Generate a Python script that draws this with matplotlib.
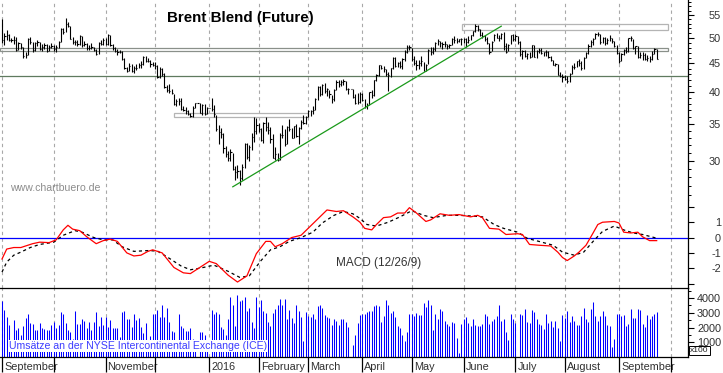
import matplotlib
matplotlib.use("Agg")
import matplotlib.pyplot as plt
import matplotlib.transforms as mtransforms
from matplotlib.patches import Rectangle
import numpy as np
import pandas as pd

plt.rcParams['font.family'] = ['Liberation Sans', 'DejaVu Sans']

# ---- daily Brent bars, Sep 1 2015 .. Sep 23 2016 (business days) ----
close = [
    # Sep 2015
    49.56, 50.50, 50.68, 49.61, 49.61, 49.52, 47.58, 48.89, 48.14, 46.37, 46.63, 49.75, 49.08, 47.47, 48.92, 49.08, 47.75, 48.23, 48.60, 47.34, 48.23, 48.37,
    # Oct 2015
    47.69, 48.13, 49.25, 51.92, 51.33, 53.05, 52.65, 49.86, 49.24, 49.15, 48.71, 50.46, 48.61, 48.71, 47.85, 47.99, 48.07, 47.46, 46.81, 49.05, 48.80, 49.56,
    # Nov 2015
    48.79, 50.54, 48.58, 47.98, 47.42, 47.19, 47.19, 45.81, 44.06, 43.61, 44.56, 43.57, 44.14, 44.18, 44.66, 44.83, 46.12, 45.46, 45.46, 44.86, 44.61,
    # Dec 2015
    44.44, 42.49, 43.84, 43.00, 40.73, 40.26, 40.11, 39.73, 37.93, 38.39, 38.45, 37.19, 37.06, 36.88, 36.35, 36.11, 37.36, 38.10, 38.10, 36.62, 37.79, 36.46, 37.28,
    # Jan 2016
    37.28, 37.22, 36.42, 34.23, 33.75, 33.55, 31.55, 30.86, 30.31, 31.03, 28.94, 28.55, 28.76, 27.88, 29.25, 32.18, 30.50, 31.80, 33.10, 33.89, 34.74,
    # Feb 2016
    34.24, 32.72, 35.04, 34.46, 34.06, 32.88, 30.32, 30.84, 30.06, 33.36, 33.39, 32.18, 34.50, 34.28, 33.01, 34.69, 33.27, 34.41, 35.29, 35.10, 35.97,
    # Mar 2016
    36.81, 36.93, 37.07, 38.72, 40.84, 39.65, 41.07, 40.05, 40.39, 39.53, 38.74, 40.33, 41.54, 41.20, 41.54, 41.79, 40.47, 40.44, 40.44, 39.14, 38.14, 38.32, 39.60,
    # Apr 2016
    38.67, 37.69, 37.87, 39.84, 39.43, 41.94, 42.83, 44.69, 44.18, 43.84, 43.10, 42.91, 44.03, 45.92, 44.53, 45.11, 44.48, 45.74, 47.18, 48.14, 48.13,
    # May 2016
    45.83, 44.97, 44.62, 45.01, 45.37, 43.63, 44.66, 47.59, 47.08, 47.83, 48.97, 49.28, 48.93, 48.81, 48.72, 48.35, 48.61, 49.74, 49.59, 49.32, 49.76, 49.69,
    # Jun 2016
    49.72, 49.17, 49.64, 50.55, 51.44, 52.51, 51.95, 50.54, 50.35, 49.83, 48.97, 47.19, 49.17, 50.65, 49.96, 49.88, 50.91, 48.41, 47.16, 48.58, 50.61, 49.68,
    # Jul 2016
    50.35, 49.10, 46.80, 47.43, 46.40, 46.76, 46.25, 48.47, 46.26, 47.37, 47.61, 46.96, 47.13, 47.17, 46.20, 45.69, 44.72, 44.87, 42.92, 42.70, 42.46,
    # Aug 2016
    42.14, 41.80, 43.10, 44.29, 44.27, 45.39, 44.98, 44.05, 46.04, 46.97, 48.35, 49.23, 49.85, 50.89, 50.88, 49.16, 49.96, 49.05, 49.67, 49.92, 49.26, 48.37, 47.04,
    # Sep 2016
    45.45, 46.83, 47.63, 47.26, 49.98, 49.99, 48.01, 48.32, 46.10, 46.59, 46.59, 45.77, 45.95, 45.88, 46.83, 47.65, 45.89,
]
high = [
    54.0, 51.0, 51.6, 50.9, 50.0, 50.4, 50.2, 49.2, 49.0, 48.2, 47.1, 49.9, 50.2, 49.2, 49.1, 49.5, 49.2, 48.8, 48.9, 48.8, 48.6, 48.9,
    48.6, 48.5, 49.4, 52.2, 52.2, 54.3, 53.5, 52.5, 50.2, 49.6, 49.6, 50.6, 50.5, 49.3, 48.9, 48.6, 49.0, 48.2, 47.7, 49.2, 49.6, 50.0,
    49.9, 50.9, 50.6, 48.8, 48.2, 47.8, 47.6, 47.4, 45.9, 44.3, 45.1, 44.8, 44.5, 44.8, 45.0, 45.4, 46.4, 46.4, 45.9, 45.7, 45.3,
    45.3, 44.6, 44.3, 44.2, 43.2, 41.1, 41.3, 40.4, 39.6, 38.7, 38.9, 39.0, 37.7, 37.5, 37.1, 36.6, 37.6, 38.2, 38.1, 38.1, 37.9, 37.9, 37.5,
    37.28, 39.0, 37.8, 36.3, 34.8, 34.4, 33.6, 31.9, 31.2, 31.5, 31.0, 29.3, 29.5, 28.9, 29.6, 32.3, 32.3, 32.0, 33.6, 36.0, 35.8,
    35.1, 34.3, 35.2, 36.0, 35.2, 34.5, 33.5, 31.7, 30.9, 33.6, 34.8, 34.2, 34.7, 35.6, 34.4, 34.7, 34.9, 34.5, 35.5, 36.2, 36.1,
    37.1, 37.1, 37.7, 38.9, 41.0, 41.0, 41.2, 41.4, 40.6, 40.2, 39.5, 40.5, 42.0, 42.0, 41.9, 42.2, 41.8, 40.6, 40.44, 40.5, 39.6, 39.7, 39.9,
    39.7, 38.8, 38.2, 40.0, 40.3, 42.0, 43.0, 44.7, 44.7, 44.5, 44.0, 43.3, 44.2, 46.1, 46.1, 45.3, 45.4, 45.9, 47.6, 48.5, 48.5,
    48.0, 46.3, 45.6, 45.6, 46.4, 45.3, 44.9, 47.8, 48.1, 48.1, 49.1, 49.8, 49.3, 49.1, 49.3, 48.8, 48.8, 50.0, 50.5, 49.9, 49.8, 49.9,
    50.0, 49.9, 50.5, 50.7, 51.5, 52.9, 52.7, 51.9, 51.3, 50.6, 50.1, 49.0, 49.4, 50.9, 51.0, 50.6, 51.0, 51.2, 48.9, 48.7, 50.6, 50.8,
    50.8, 50.5, 49.3, 47.5, 47.5, 46.9, 47.2, 48.6, 48.6, 47.5, 48.0, 47.9, 47.2, 47.6, 47.3, 46.3, 45.7, 45.1, 44.9, 43.4, 43.0,
    42.9, 42.6, 43.2, 44.7, 45.1, 45.5, 45.8, 45.5, 46.1, 47.2, 48.7, 49.6, 50.0, 51.0, 51.2, 50.8, 50.2, 50.1, 50.0, 50.7, 49.9, 49.4, 48.6,
    47.2, 47.0, 47.8, 48.2, 50.0, 50.4, 49.8, 48.4, 48.4, 47.2, 47.1, 46.9, 46.6, 46.3, 47.3, 48.0, 47.8,
]
low = [
    48.9, 48.5, 49.6, 49.3, 49.2, 48.8, 47.3, 47.5, 47.8, 46.0, 46.0, 46.5, 48.7, 47.2, 47.3, 48.4, 47.6, 47.4, 47.8, 47.1, 47.3, 47.9,
    47.4, 47.1, 47.9, 49.1, 50.8, 51.3, 52.3, 49.7, 48.8, 48.5, 48.3, 48.5, 48.2, 48.3, 47.6, 47.5, 47.7, 47.3, 46.6, 46.8, 48.6, 48.5,
    48.6, 48.6, 48.3, 47.6, 47.1, 46.6, 46.9, 45.6, 43.9, 43.3, 43.5, 43.3, 43.2, 43.8, 44.2, 44.2, 44.7, 45.2, 45.2, 44.3, 44.4,
    44.0, 42.3, 42.3, 42.7, 40.6, 39.9, 39.8, 39.6, 37.8, 37.6, 37.8, 37.0, 36.9, 36.4, 36.2, 35.9, 36.0, 37.3, 38.1, 36.5, 36.3, 36.3, 36.4,
    37.28, 36.9, 36.0, 34.0, 32.2, 33.0, 31.0, 30.4, 29.9, 29.9, 28.8, 27.7, 27.9, 27.1, 27.7, 29.1, 30.2, 29.9, 31.3, 32.4, 33.5,
    33.8, 32.6, 32.3, 34.0, 33.5, 32.3, 30.3, 30.1, 30.0, 30.1, 32.9, 31.9, 32.1, 34.0, 32.9, 33.0, 33.1, 32.1, 34.2, 34.9, 34.9,
    35.9, 36.1, 36.4, 37.1, 38.6, 39.2, 39.4, 39.8, 39.2, 38.9, 38.2, 38.5, 40.2, 40.7, 40.9, 41.1, 40.2, 39.6, 40.44, 39.0, 37.9, 37.9, 38.2,
    38.5, 37.3, 37.2, 37.8, 39.0, 39.2, 41.8, 42.6, 43.9, 43.4, 42.7, 40.1, 42.5, 43.9, 44.3, 44.3, 44.2, 44.0, 45.5, 46.9, 47.5,
    45.4, 44.6, 43.8, 44.0, 44.5, 43.5, 43.5, 44.8, 46.6, 46.7, 47.4, 48.6, 48.2, 47.8, 48.2, 47.8, 47.9, 48.6, 49.0, 48.9, 49.2, 48.6,
    48.9, 48.2, 49.0, 49.5, 50.5, 51.3, 51.5, 50.4, 49.9, 49.4, 48.7, 46.8, 47.4, 49.4, 49.9, 49.4, 49.7, 47.5, 47.0, 47.4, 48.7, 49.3,
    49.4, 48.8, 46.3, 45.8, 46.2, 45.8, 45.9, 46.2, 46.1, 46.0, 47.0, 46.7, 46.4, 46.3, 46.0, 45.5, 44.6, 44.4, 42.8, 42.5, 41.7,
    41.9, 41.5, 41.6, 43.1, 43.9, 44.3, 44.5, 43.8, 44.0, 46.0, 46.7, 48.2, 48.6, 49.7, 50.3, 48.8, 49.0, 48.5, 48.8, 49.4, 49.0, 48.1, 46.8,
    45.1, 45.4, 46.5, 46.9, 47.2, 49.3, 47.7, 46.8, 46.0, 45.9, 45.7, 45.6, 45.4, 45.2, 45.6, 46.8, 45.8,
]
# volume in units of 100 contracts
volume = [
    3800, 3200, 2700, 2150, 600, 2500, 1800, 2000, 1500, 2100, 2650, 2900, 2300, 2250, 1800, 1850, 2300, 2000, 1900, 1850, 1850, 2150,
    2350, 2000, 2150, 3050, 2950, 2300, 1850, 1700, 1200, 3100, 2250, 2250, 2550, 2450, 2000, 2400, 1850, 2400, 3050, 2100, 2700, 2150,
    2700, 2050, 2500, 1950, 2000, 1950, 1350, 3050, 3100, 2600, 2600, 2050, 2900, 2500, 2650, 2050, 1650, 2300, 900, 1400, 2900,
    2900, 3200, 2700, 3500, 2700, 3350, 2400, 1750, 1700, 1000, 2900, 2100, 1950, 1750, 1750, 1950, 1200, 600, 0, 1700, 1700, 1500, 900,
    0, 3200, 2900, 3050, 2950, 2050, 1900, 1500, 2600, 4050, 3500, 2100, 4200, 3800, 3850, 4050, 3150, 3350, 2400, 1950, 4050,
    3400, 3850, 3100, 3000, 2400, 2100, 3000, 3250, 3500, 3950, 3500, 3950, 2600, 3200, 2650, 2300, 3500, 3100, 2700, 1100, 3050,
    2800, 2700, 2950, 2600, 3450, 3550, 3300, 2850, 2700, 2650, 2200, 2600, 2450, 2200, 2550, 2600, 2350, 2050, 0, 800, 1500, 2300, 2850,
    2900, 2900, 3050, 3100, 3100, 3450, 3550, 3450, 2350, 2750, 3850, 3550, 3000, 3100, 2700, 2100, 2000, 1500, 1100, 1700, 2900,
    2950, 2750, 3000, 2850, 2850, 3650, 3400, 3850, 3550, 1850, 2950, 2550, 3250, 3100, 2450, 2250, 2100, 2400, 2300, 1300, 300, 2250,
    2550, 2700, 2300, 2100, 2600, 2150, 2100, 2100, 2250, 2900, 2800, 2250, 2450, 2550, 2750, 3500, 2450, 2600, 1700, 1150, 2900, 2550,
    2300, 0, 2900, 2850, 3250, 2400, 2300, 3200, 3050, 2600, 2250, 2150, 1900, 2900, 2300, 2450, 2050, 2450, 2000, 1100, 2850,
    2650, 3150, 2350, 2800, 2450, 2200, 2150, 2750, 3350, 2600, 2350, 3250, 3750, 2750, 2450, 2800, 3150, 2800, 2150, 2100, 650, 1250, 2950,
    2950, 2800, 2850, 2100, 2250, 3250, 2650, 2650, 3250, 3200, 2250, 2050, 2850, 2550, 2800, 2950, 3050,
]

# MACD (12/26/9): bar index -> value
macd_x = [0, 2, 5, 8, 11, 13, 16, 20, 23, 26, 28, 30, 33, 36, 40, 43, 46, 49, 53, 56, 59, 62, 64, 68, 73, 77, 80, 84, 88, 91,
          96, 100, 104, 108, 112, 114, 116, 119, 123, 127, 131, 134, 138, 142, 145, 149, 152, 154, 157, 159, 162, 165, 168,
          171, 173, 176, 180, 182, 186, 190, 194, 199, 202, 204, 207, 211, 214, 219, 221, 224, 228, 233, 236, 238, 240, 243,
          245, 248, 251, 253, 255, 260, 262, 264, 267, 270, 272, 275, 278]
macd_y = [-1.4, -0.75, -0.65, -0.65, -0.5, -0.4, -0.3, -0.33, -0.15, 0.5, 0.8, 0.55, 0.45, 0.05, -0.4, -0.2, -0.1, -0.25,
          -1.0, -1.2, -1.15, -0.9, -0.8, -1.0, -1.95, -2.3, -2.35, -1.95, -1.55, -1.7, -2.45, -2.9, -2.5, -1.05, -0.25, -0.25,
          -0.6, -0.4, 0.0, 0.15, 0.75, 1.2, 1.8, 1.7, 1.75, 1.35, 1.0, 0.6, 0.5, 0.85, 1.3, 1.35, 1.6, 1.6, 1.95, 1.6, 1.05,
          1.15, 1.55, 1.45, 1.5, 1.35, 1.45, 1.3, 0.6, 0.55, 0.2, 0.25, 0.2, -0.45, -0.5, -0.55, -0.95, -1.3, -1.5, -1.2,
          -0.95, -0.5, 0.3, 0.85, 1.0, 1.05, 0.95, 0.35, 0.3, 0.35, 0.05, -0.2, -0.2]
signal_x = [0, 2, 5, 8, 12, 16, 22, 26, 31, 34, 39, 43, 47, 51, 56, 62, 66, 70, 76, 80, 84, 90, 96, 101, 105, 110, 114, 118,
            122, 127, 132, 136, 141, 145, 149, 152, 155, 159, 164, 169, 174, 179, 183, 189, 194, 200, 204, 209, 213, 219, 223,
            228, 234, 238, 243, 247, 251, 255, 260, 264, 268, 272, 277, 278]
signal_y = [-2.25, -1.6, -1.15, -0.95, -0.65, -0.45, -0.3, 0.15, 0.45, 0.35, 0.0, -0.15, -0.15, -0.6, -0.9, -0.85, -0.88,
            -1.25, -1.85, -2.1, -2.0, -1.8, -2.2, -2.6, -2.5, -1.5, -0.8, -0.6, -0.25, 0.0, 0.35, 0.95, 1.45, 1.7, 1.55, 1.25,
            0.85, 0.75, 1.0, 1.35, 1.75, 1.45, 1.3, 1.45, 1.45, 1.4, 1.35, 0.85, 0.6, 0.35, -0.05, -0.25, -0.5, -0.95, -1.15,
            -0.95, -0.25, 0.4, 0.75, 0.5, 0.3, 0.2, 0.0, -0.05]

# chartist's drawings (bar index / price)
trend_x, trend_y = [98, 212], [26.9, 52.5]
support_level = 42.7
zone_mid = (-1, 282.8, 47.25, 47.9)
zone_top = (195.3, 282.8, 51.75, 53.0)
zone_low = (73, 130, 36.0, 36.5)

month_labels = ['September', '', 'November', '', '2016', 'February', 'March', 'April',
                'May', 'June', 'July', 'August', 'September', '']
price_ticks = [30, 35, 40, 45, 50, 55]
macd_ticks = [-3, -2, -1, 0, 1, 2]
macd_tick_labels = ['', '-2', '-1', '0', '1', '']
vol_ticks = [1000, 2000, 3000, 4000]
vol_minor = [500, 1500, 2500, 3500, 4500]

# ---------------------------------------------------------------------------
n = len(close)
x = np.arange(n)
all_days = pd.bdate_range('2015-09-01', '2016-10-31')
pos = pd.Series(np.arange(len(all_days)), index=all_days)
month_pos = pos.groupby([all_days.year, all_days.month]).first().values

W, H = 723, 373
fig = plt.figure(figsize=(W / 100, H / 100), dpi=100)


def rect(top, bottom):
    return [0, 1 - bottom / H, 688 / W, (bottom - top) / H]


ax_p = fig.add_axes(rect(0, 200))
ax_m = fig.add_axes(rect(200, 288), sharex=ax_p)
ax_v = fig.add_axes(rect(288, 357), sharex=ax_p)

txt_col = '#303030'
grid_col = '#a8a8a8'
for ax in (ax_p, ax_m, ax_v):
    ax.set_facecolor('white')
    for s in ('left', 'top', 'bottom'):
        ax.spines[s].set_visible(False)
    ax.spines['right'].set_linewidth(0.9)
    ax.yaxis.tick_right()
    for mp in month_pos:
        ax.axvline(mp, color=grid_col, lw=0.8, ls=(0, (3, 3)), zorder=0)
    ax.tick_params(axis='y', which='major', length=4, width=0.8, pad=19.8,
                   labelsize=7.8, labelcolor=txt_col)
    ax.tick_params(axis='y', which='minor', length=2.2, width=0.7)
    ax.tick_params(axis='x', which='both', bottom=False, labelbottom=False)

ax_p.set_xlim(-0.85, 291.3)

# price panel
ax_p.set_yscale('log')
ax_p.set_ylim(25.46, 58.55)
ax_p.yaxis.set_major_locator(matplotlib.ticker.FixedLocator(price_ticks))
ax_p.yaxis.set_major_formatter(matplotlib.ticker.FixedFormatter([str(t) for t in price_ticks]))
ax_p.yaxis.set_minor_locator(matplotlib.ticker.FixedLocator([v for v in range(26, 59) if v % 5]))
ax_p.yaxis.set_minor_formatter(matplotlib.ticker.NullFormatter())

ax_p.add_patch(Rectangle((zone_mid[0], zone_mid[2]), zone_mid[1] - zone_mid[0], zone_mid[3] - zone_mid[2],
                         fill=False, ec='#8a908a', lw=0.9, zorder=1))
ax_p.add_patch(Rectangle((zone_top[0], zone_top[2]), zone_top[1] - zone_top[0], zone_top[3] - zone_top[2],
                         fill=False, ec='#b4b4b4', lw=0.9, zorder=1))
ax_p.add_patch(Rectangle((zone_low[0], zone_low[2]), zone_low[1] - zone_low[0], zone_low[3] - zone_low[2],
                         fill=False, ec='#b4b4b4', lw=0.9, zorder=1))
ax_p.axhline(support_level, color='#5f7a5f', lw=0.9, zorder=1)

ax_p.vlines(x, low, high, color='black', lw=0.8, zorder=3)
ax_p.hlines(close, x, x + 0.5, color='black', lw=0.8, zorder=3)
ax_p.plot(trend_x, trend_y, color='#1a9a1a', lw=0.9, zorder=4)

# MACD panel
ax_m.set_ylim(-3.29, 2.45)
ax_m.axhline(0, color='#0000ff', lw=0.9, zorder=1)
ax_m.plot(signal_x, signal_y, color='black', lw=0.9, ls=(0, (2.5, 2.5)), zorder=2)
ax_m.plot(macd_x, macd_y, color='#ff0000', lw=0.9, zorder=3)
ax_m.set_yticks(macd_ticks)
ax_m.set_yticklabels(macd_tick_labels)

# volume panel
ax_v.spines['top'].set_visible(True)
ax_v.spines['bottom'].set_visible(True)
ax_v.spines['top'].set_linewidth(0.9)
ax_v.spines['bottom'].set_linewidth(0.9)
ax_v.set_ylim(0, 4680)
ax_v.vlines(x, 0, volume, color='#0000ff', lw=0.75, zorder=2)
ax_v.set_yticks(vol_ticks)
ax_v.set_yticklabels([str(v) for v in vol_ticks])
ax_v.set_yticks(vol_minor, minor=True)
ax_v.set_xticks(month_pos)
ax_v.set_xticklabels(month_labels)
ax_v.tick_params(axis='x', which='major', bottom=True, labelbottom=True, direction='out',
                 length=10.8, width=0.9, pad=-7.0, labelsize=7.8, labelcolor=txt_col)

for ax in (ax_p, ax_m, ax_v):
    for lbl in ax.get_yticklabels():
        lbl.set_horizontalalignment('right')
shift = mtransforms.ScaledTranslation(2 / 100, 0, fig.dpi_scale_trans)
for lbl in ax_v.get_xticklabels():
    lbl.set_horizontalalignment('left')
    lbl.set_transform(lbl.get_transform() + shift)

# texts
fig.text(167 / W, 1 - 18 / H, 'Brent Blend (Future)', fontsize=10.9, fontweight='bold',
         ha='left', va='center', color='black')
fig.text(10 / W, 1 - 188 / H, 'www.chartbuero.de', fontsize=7.6, color='#8c8c8c',
         ha='left', va='center')
fig.text(336 / W, 1 - 263 / H, 'MACD (12/26/9)', fontsize=8.5, color='#333333',
         ha='left', va='center')
fig.text(9 / W, 1 - 346 / H, 'Umsätze an der NYSE Intercontinental Exchange (ICE)', fontsize=7.6,
         color='#3c3cff', ha='left', va='center',
         bbox=dict(facecolor='white', edgecolor='none', pad=0.6))
fig.text(699.5 / W, 1 - 350.5 / H, 'x100', fontsize=6.0, color='#202020', ha='center', va='center',
         bbox=dict(facecolor='white', edgecolor='black', lw=0.7, boxstyle='square,pad=0.12'))

fig.savefig('out.png', dpi=100, facecolor='white')
